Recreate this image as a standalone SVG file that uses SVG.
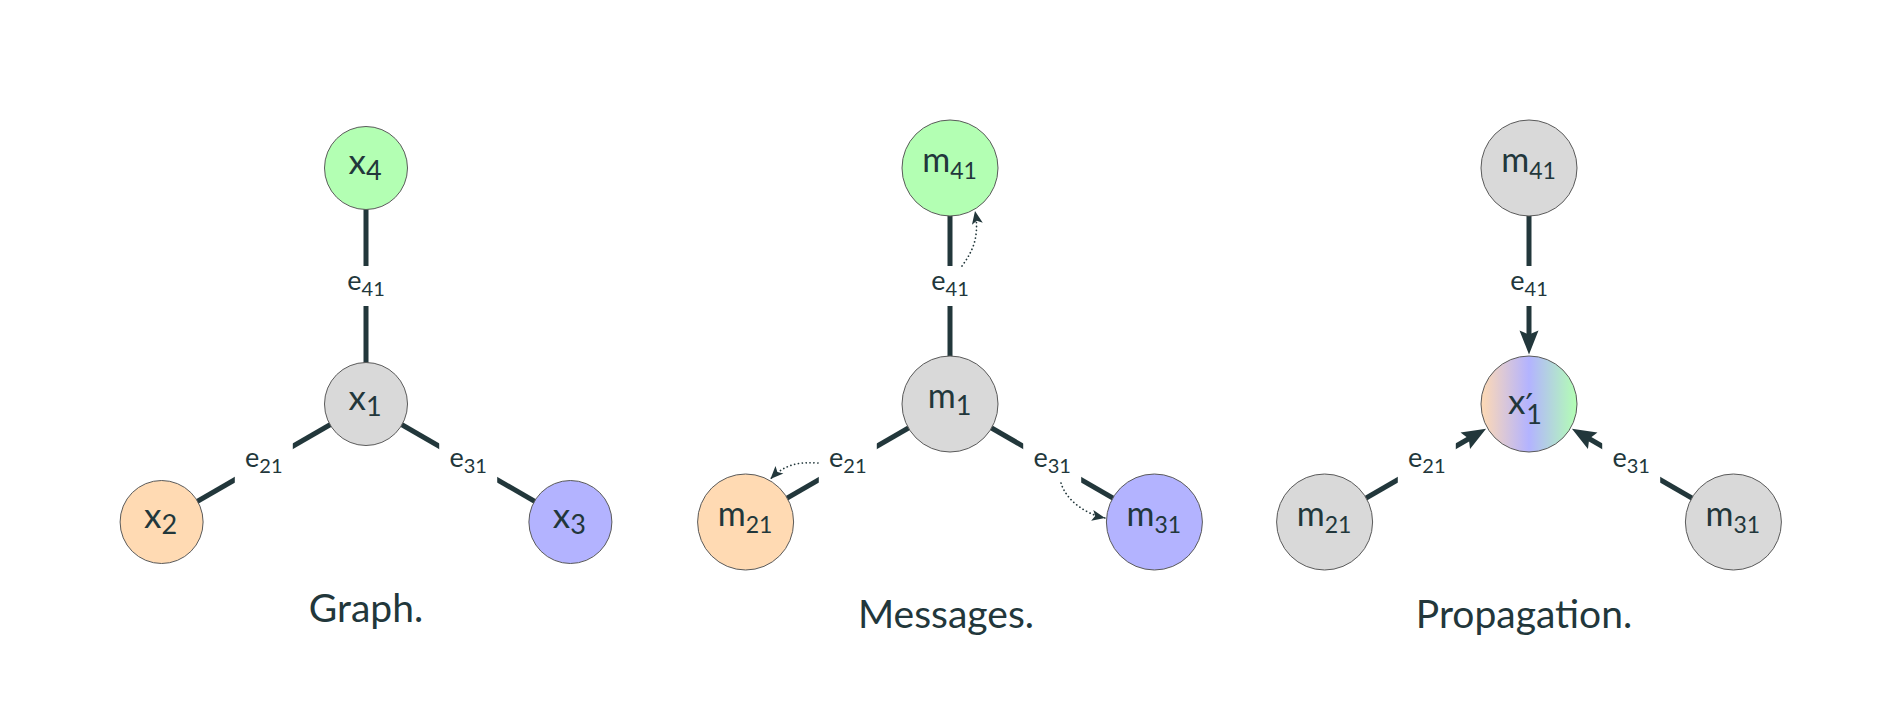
<svg xmlns="http://www.w3.org/2000/svg" width="1890" height="722" viewBox="0 0 1890 722">
<style>
  text { font-family: Lato, "Open Sans", "Liberation Sans", sans-serif; fill: #22373b; }
  .edge { stroke: #22373b; stroke-width: 5; fill: none; }
  .dot { stroke: #22373b; stroke-width: 1.7; fill: none; stroke-dasharray: 0.1 3.8; stroke-linecap: round; }
  .node { stroke: #5a5a5a; stroke-width: 1; }
  .gray { fill: #d9d9d9; }
  .green { fill: #b3ffb3; }
  .peach { fill: #ffdab3; }
  .blue { fill: #b3b3ff; }
  .lblbg { fill: #ffffff; }
  .nl { font-size: 35px; }
  .ns { font-size: 27px; }
  .ml { font-size: 34px; }
  .ms { font-size: 23px; }
  .el { font-size: 27px; }
  .es { font-size: 20px; }
  .cap { font-size: 39px; }
  .prime { font-size: 34px; font-family: "DejaVu Sans", sans-serif; }
</style>
<defs>
  <linearGradient id="mix" gradientUnits="userSpaceOnUse" x1="1481" y1="0" x2="1577" y2="0">
    <stop offset="0" stop-color="#ffdab3"/>
    <stop offset="0.5" stop-color="#b3b3ff"/>
    <stop offset="1" stop-color="#b3ffb3"/>
  </linearGradient>
  <marker id="ah" viewBox="-10 -11 28 22" refX="0" refY="0" markerWidth="28" markerHeight="22" markerUnits="userSpaceOnUse" orient="auto">
    <path d="M15,0 L-9,-9.5 L-5,0 L-9,9.5 Z" fill="#22373b"/>
  </marker>
  <marker id="dh" viewBox="-15 -7 17 14" refX="0" refY="0" markerWidth="17" markerHeight="14" markerUnits="userSpaceOnUse" orient="auto">
    <path d="M0,0 L-13,-5.5 L-10,0 L-13,5.5 Z" fill="#22373b"/>
  </marker>
</defs>

<g id="connectors">
  <!-- Panel 1 -->
  <line class="edge" x1="366" y1="404" x2="366" y2="168"/>
  <line class="edge" x1="366" y1="404" x2="161.6" y2="522"/>
  <line class="edge" x1="366" y1="404" x2="570.4" y2="522"/>
  <!-- Panel 2 -->
  <line class="edge" x1="950" y1="404" x2="950" y2="168"/>
  <line class="edge" x1="950" y1="404" x2="745.6" y2="522"/>
  <line class="edge" x1="950" y1="404" x2="1154.4" y2="522"/>
  <!-- Panel 3 -->
  <line class="edge" x1="1529" y1="168" x2="1529" y2="286"/>
  <line class="edge" x1="1324.6" y1="522" x2="1426.8" y2="463"/>
  <line class="edge" x1="1733.4" y1="522" x2="1631.2" y2="463"/>
  <line class="edge" x1="1529" y1="286" x2="1529" y2="339.5" marker-end="url(#ah)"/>
  <line class="edge" x1="1426.8" y1="463" x2="1473.1" y2="436.25" marker-end="url(#ah)"/>
  <line class="edge" x1="1631.2" y1="463" x2="1584.9" y2="436.25" marker-end="url(#ah)"/>

  <!-- edge labels -->
  <g id="lbl-p1-e41"><rect class="lblbg" x="337" y="266" width="58" height="40"/><text class="el" x="366" y="290" text-anchor="middle">e<tspan class="es" dy="5.6">41</tspan></text></g>
  <g id="lbl-p1-e21"><rect class="lblbg" x="234.8" y="443" width="58" height="40"/><text class="el" x="263.8" y="467" text-anchor="middle">e<tspan class="es" dy="5.6">21</tspan></text></g>
  <g id="lbl-p1-e31"><rect class="lblbg" x="439.2" y="443" width="58" height="40"/><text class="el" x="468.2" y="467" text-anchor="middle">e<tspan class="es" dy="5.6">31</tspan></text></g>

  <g id="lbl-p2-e41"><rect class="lblbg" x="921" y="266" width="58" height="40"/><text class="el" x="950" y="290" text-anchor="middle">e<tspan class="es" dy="5.6">41</tspan></text></g>
  <g id="lbl-p2-e21"><rect class="lblbg" x="818.8" y="443" width="58" height="40"/><text class="el" x="847.8" y="467" text-anchor="middle">e<tspan class="es" dy="5.6">21</tspan></text></g>
  <g id="lbl-p2-e31"><rect class="lblbg" x="1023.2" y="443" width="58" height="40"/><text class="el" x="1052.2" y="467" text-anchor="middle">e<tspan class="es" dy="5.6">31</tspan></text></g>

  <g id="lbl-p3-e41"><rect class="lblbg" x="1500" y="266" width="58" height="40"/><text class="el" x="1529" y="290" text-anchor="middle">e<tspan class="es" dy="5.6">41</tspan></text></g>
  <g id="lbl-p3-e21"><rect class="lblbg" x="1397.8" y="443" width="58" height="40"/><text class="el" x="1426.8" y="467" text-anchor="middle">e<tspan class="es" dy="5.6">21</tspan></text></g>
  <g id="lbl-p3-e31"><rect class="lblbg" x="1602.2" y="443" width="58" height="40"/><text class="el" x="1631.2" y="467" text-anchor="middle">e<tspan class="es" dy="5.6">31</tspan></text></g>

  <!-- dotted message arrows -->
  <path class="dot" d="M962,266 C972,252 980,238 975,211" marker-end="url(#dh)"/>
  <path class="dot" d="M818,463 C800,462 786,463 770.4,479.1" marker-end="url(#dh)"/>
  <path class="dot" d="M1061,483 C1066,500 1085,514 1105,518" marker-end="url(#dh)"/>
</g>

<!-- Panel 1 nodes -->
<g id="p1-x1"><circle class="node gray" cx="366" cy="404" r="41.5"/><text class="nl" x="365" y="410" text-anchor="middle">x<tspan class="ns" dy="6">1</tspan></text></g>
<g id="p1-x4"><circle class="node green" cx="366" cy="168" r="41.5"/><text class="nl" x="365" y="174" text-anchor="middle">x<tspan class="ns" dy="6">4</tspan></text></g>
<g id="p1-x2"><circle class="node peach" cx="161.6" cy="522" r="41.5"/><text class="nl" x="160.6" y="528" text-anchor="middle">x<tspan class="ns" dy="6">2</tspan></text></g>
<g id="p1-x3"><circle class="node blue" cx="570.4" cy="522" r="41.5"/><text class="nl" x="569.4" y="528" text-anchor="middle">x<tspan class="ns" dy="6">3</tspan></text></g>

<!-- Panel 2 nodes -->
<g id="p2-m1"><circle class="node gray" cx="950" cy="404" r="48"/><text class="ml" x="949.5" y="408" text-anchor="middle">m<tspan class="ns" dy="7">1</tspan></text></g>
<g id="p2-m41"><circle class="node green" cx="950" cy="168" r="48"/><text class="ml" x="949.5" y="171.5" text-anchor="middle">m<tspan class="ms" dy="7">41</tspan></text></g>
<g id="p2-m21"><circle class="node peach" cx="745.6" cy="522" r="48"/><text class="ml" x="745.1" y="525.5" text-anchor="middle">m<tspan class="ms" dy="7">21</tspan></text></g>
<g id="p2-m31"><circle class="node blue" cx="1154.4" cy="522" r="48"/><text class="ml" x="1153.9" y="525.5" text-anchor="middle">m<tspan class="ms" dy="7">31</tspan></text></g>

<!-- Panel 3 nodes -->
<g id="p3-x1p"><circle class="node" fill="url(#mix)" cx="1529" cy="404" r="48"/><text class="nl" x="1508" y="413.5">x<tspan class="prime" dy="4.5">′</tspan><tspan class="ns" dx="-7" dy="6">1</tspan></text></g>
<g id="p3-m41"><circle class="node gray" cx="1529" cy="168" r="48"/><text class="ml" x="1528.5" y="171.5" text-anchor="middle">m<tspan class="ms" dy="7">41</tspan></text></g>
<g id="p3-m21"><circle class="node gray" cx="1324.6" cy="522" r="48"/><text class="ml" x="1324.1" y="525.5" text-anchor="middle">m<tspan class="ms" dy="7">21</tspan></text></g>
<g id="p3-m31"><circle class="node gray" cx="1733.4" cy="522" r="48"/><text class="ml" x="1732.9" y="525.5" text-anchor="middle">m<tspan class="ms" dy="7">31</tspan></text></g>

<!-- captions -->
<g id="captions">
  <text class="cap" x="366" y="621.5" text-anchor="middle">Graph.</text>
  <text class="cap" x="946" y="627.5" text-anchor="middle">Messages.</text>
  <text class="cap" x="1524" y="627.5" text-anchor="middle">Propagation.</text>
</g>
</svg>
